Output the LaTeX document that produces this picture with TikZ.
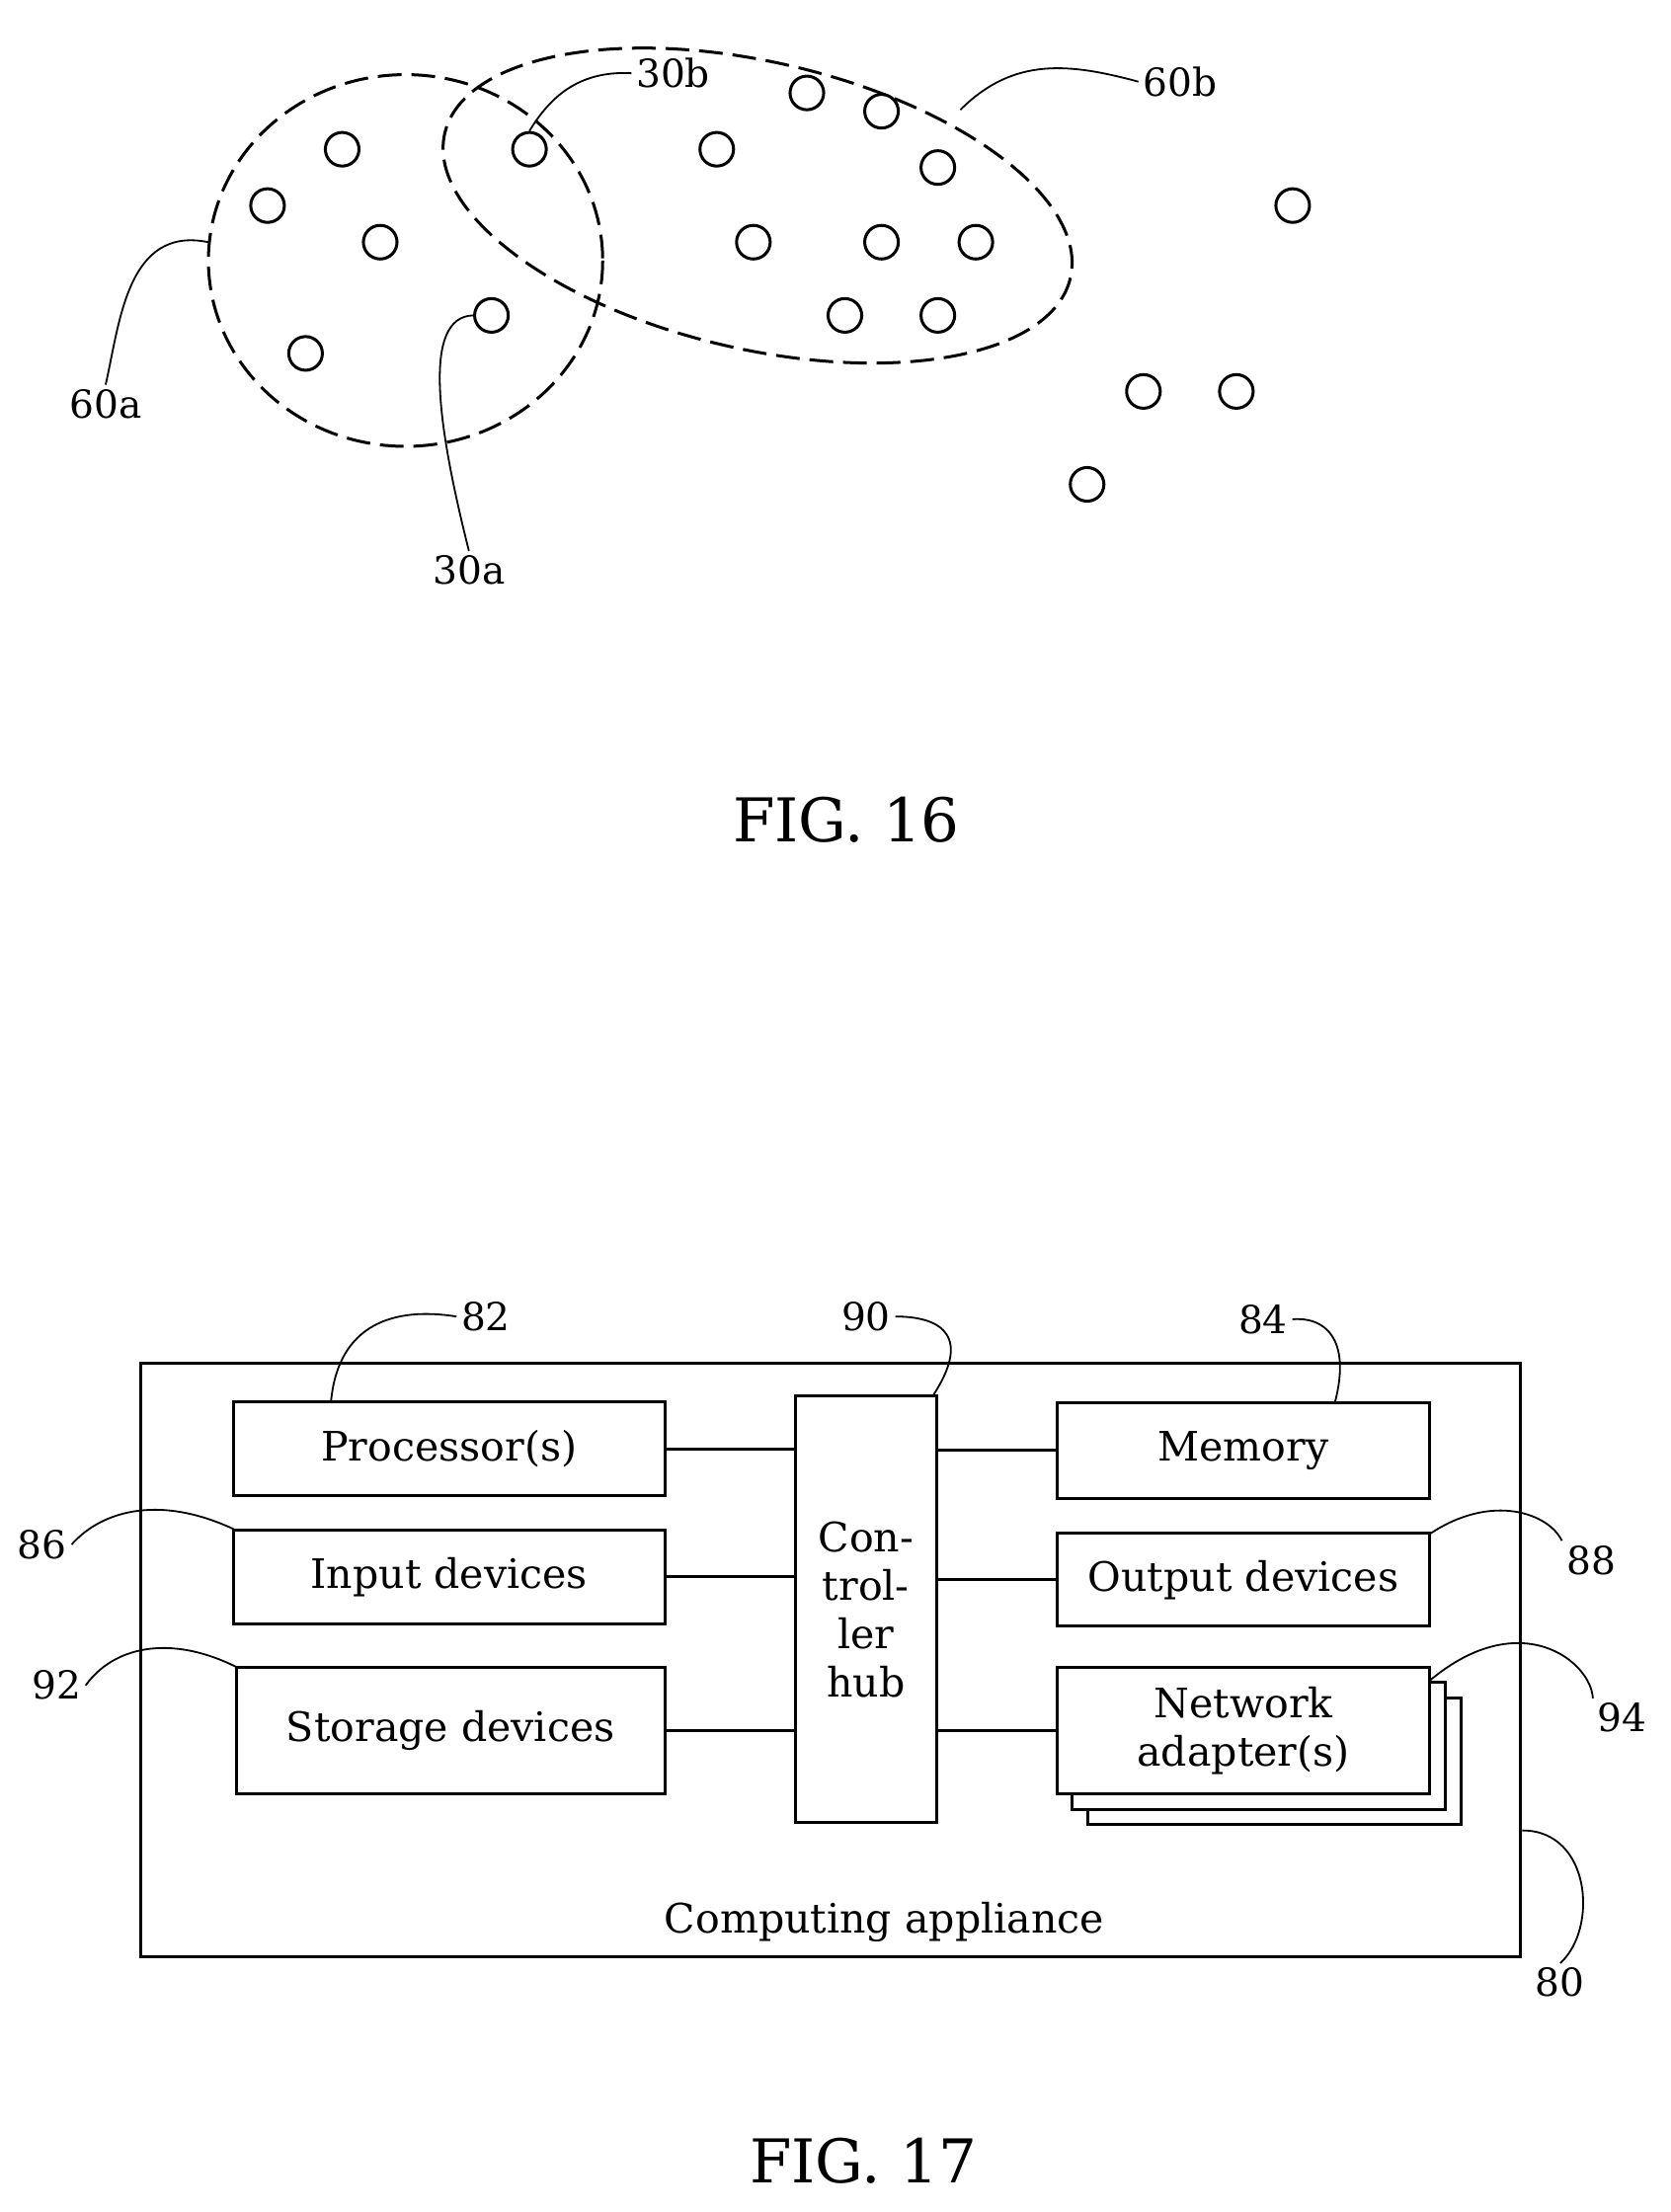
\documentclass[tikz,border=0pt]{standalone}
\usepackage{fontspec}
\setmainfont{DejaVu Serif}
\begin{document}
\begin{tikzpicture}[x=0.05cm,y=-0.05cm,line width=3pt,
  dot/.style={circle,draw,minimum size=34pt,inner sep=0pt},
  lbl/.style={font=\fontsize{39}{46}\selectfont},
  fig/.style={font=\fontsize{61}{70}\selectfont},
  box/.style={draw,fill=white,font=\fontsize{41}{49}\selectfont,align=center},
  lead/.style={line width=1.8pt}]
\useasboundingbox (0,0) rectangle (1186,1571);
% FIG 16
\foreach \x/\y [count=\i] in {243/106,190/146,270/172,217/251,349/224,376/106,509/106,573/66,626/79,666/119,535/172,626/172,693/172,600/224,666/224,918/146,812/278,878/278,772/344}
  \node[dot] (d\i) at (\x,\y) {};
\draw[dash pattern=on 24pt off 10pt] (288,185) ellipse [x radius=140,y radius=132];
\draw[dash pattern=on 24pt off 10pt,rotate around={-13:(538,146)}] (538,146) ellipse [x radius=228,y radius=102];
\node[lbl] (l60a) at (75,287) {60a};
\node[lbl] (l30b) at (478,52) {30b};
\node[lbl] (l60b) at (838,58) {60b};
\node[lbl] (l30a) at (333,405) {30a};
\draw[lead] (148,172) .. controls (90,160) and (85,230) .. (l60a.north);
\draw[lead] (d6.north) .. controls (390,70) and (410,50) .. (l30b.west);
\draw[lead] (682,78) .. controls (720,40) and (760,45) .. (l60b.west);
\draw[lead] (d5.west) .. controls (300,225) and (310,300) .. (l30a.north);
\node[fig] (f16) at (601,582) {FIG. 16};
% FIG 17
\node[draw,minimum width=980*0.05cm,minimum height=422*0.05cm,inner sep=0pt] (outer) at (590,1179) {};
\node[font=\fontsize{41}{49}\selectfont] (ca) at (628,1365) {Computing appliance};
\node[box,minimum width=306*0.05cm,minimum height=67*0.05cm] (proc) at (319,1029) {Processor(s)};
\node[box,minimum width=306*0.05cm,minimum height=67*0.05cm] (inp) at (319,1120) {Input devices};
\node[box,minimum width=304*0.05cm,minimum height=90*0.05cm] (sto) at (320,1229) {Storage devices};
\node[box,minimum width=100*0.05cm,minimum height=303*0.05cm,inner sep=0pt] (hub) at (615,1143) {Con-\\trol-\\ler\\hub};
\node[box,minimum width=265*0.05cm,minimum height=68*0.05cm] (mem) at (883,1030) {Memory};
\node[box,minimum width=265*0.05cm,minimum height=66*0.05cm,inner sep=0pt] (out) at (883,1122) {Output devices};
\node[box,minimum width=265*0.05cm,minimum height=90*0.05cm] (net2) at (905,1251) {};
\node[box,minimum width=265*0.05cm,minimum height=90*0.05cm] (net1) at (894,1240) {};
\node[box,minimum width=265*0.05cm,minimum height=90*0.05cm,inner sep=0pt] (net) at (883,1229) {Network\\adapter(s)};
\draw (proc.east) -- (proc.east -| hub.west);
\draw (inp.east) -- (inp.east -| hub.west);
\draw (sto.east) -- (sto.east -| hub.west);
\draw (mem.west -| hub.east) -- (mem.west);
\draw (out.west -| hub.east) -- (out.west);
\draw (net.west -| hub.east) -- (net.west);
\node[lbl] (n82) at (345,935) {82};
\node[lbl] (n90) at (615,935) {90};
\node[lbl] (n84) at (897,937) {84};
\node[lbl] (n86) at (30,1097) {86};
\node[lbl] (n88) at (1130,1108) {88};
\node[lbl] (n92) at (40,1197) {92};
\node[lbl] (n94) at (1152,1220) {94};
\node[lbl] (n80) at (1108,1408) {80};
\draw[lead] (235,996) .. controls (240,940) and (280,928) .. (n82.west);
\draw[lead] (662,992) .. controls (690,950) and (670,935) .. (n90.east);
\draw[lead] (948,996) .. controls (960,950) and (940,935) .. (n84.east);
\draw[lead] (166,1086) .. controls (110,1060) and (70,1075) .. (n86.east);
\draw[lead] (1016,1089) .. controls (1060,1060) and (1100,1075) .. (n88.north west);
\draw[lead] (168,1184) .. controls (120,1160) and (80,1170) .. (n92.east);
\draw[lead] (1016,1193) .. controls (1080,1140) and (1130,1180) .. (n94.north west);
\draw[lead] (outer.east |- 0,1300) .. controls (1130,1300) and (1135,1370) .. (n80.north);
\node[fig] (f17) at (613,1535) {FIG. 17};
\end{tikzpicture}
\end{document}
